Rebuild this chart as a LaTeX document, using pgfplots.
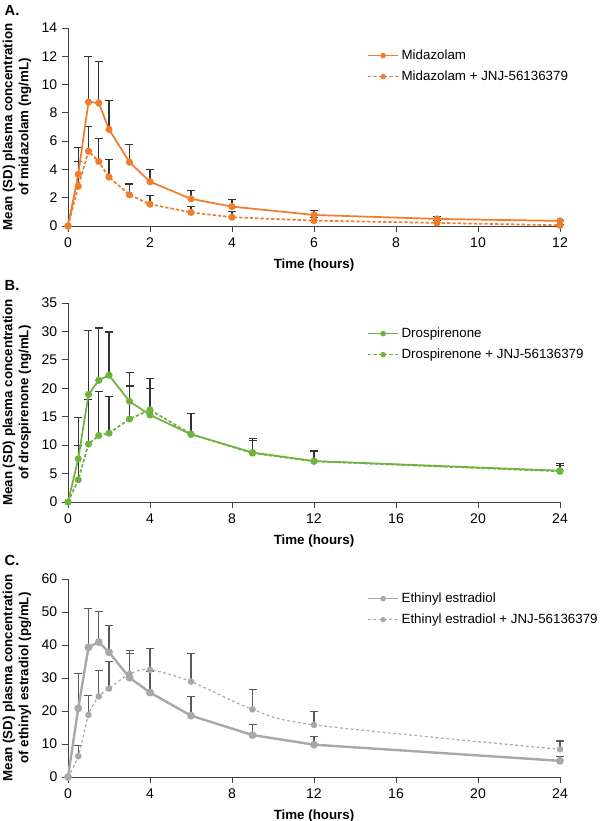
\documentclass[border=0pt]{standalone}
\usepackage{pgfplots}
\usepackage{pgfplotstable}
\pgfplotsset{compat=1.18}
\usepackage{fontspec}
\setmainfont{Liberation Sans}

\definecolor{midorange}{RGB}{240,125,45}
\definecolor{drogreen}{RGB}{112,178,62}
\definecolor{eegray}{RGB}{168,168,168}

% t, mean, SD (upper bar only)
\pgfplotstableread{
t y e
0 0 0
0.25 3.65 1.92
0.5 8.77 3.21
0.75 8.70 2.95
1 6.83 2.06
1.5 4.51 1.22
2 3.13 0.89
3 1.92 0.58
4 1.37 0.48
6 0.78 0.32
9 0.50 0.16
12 0.36 0.06
}\midaz
\pgfplotstableread{
t y e
0 0 0
0.25 2.81 1.75
0.5 5.29 1.77
0.75 4.56 1.62
1 3.46 1.27
1.5 2.20 0.77
2 1.54 0.59
3 0.96 0.39
4 0.62 0.38
6 0.38 0.24
9 0.22 0.18
12 0.05 0.05
}\midazjnj
\pgfplotstableread{
t y e
0 0 0
0.5 7.6 7.3
1 18.9 11.2
1.5 21.4 9.2
2 22.3 7.6
3 17.7 5.1
4 15.3 6.5
6 11.9 3.7
9 8.7 2.4
12 7.2 1.9
24 5.5 1.25
}\drsp
\pgfplotstableread{
t y e
0 0 0
0.5 3.9 6.0
1 10.2 7.8
1.5 11.7 7.7
2 12.1 6.5
3 14.6 5.8
4 16.2 3.7
6 11.95 3.55
9 8.6 2.2
12 7.15 1.75
24 5.4 1.1
}\drspjnj
\pgfplotstableread{
t y e
0 0 0
0.5 20.8 10.6
1 39.3 11.7
1.5 40.9 9.3
2 37.8 8.1
3 30.1 7.2
4 25.6 6.4
6 18.6 5.8
9 12.7 3.3
12 9.8 2.4
24 4.9 1.4
}\ee
\pgfplotstableread{
t y e
0 0 0
0.5 6.3 3.3
1 18.8 5.9
1.5 24.4 7.9
2 26.8 8.2
3 31.2 7.2
4 32.5 6.5
6 28.9 8.6
9 20.5 6.0
12 15.8 4.1
24 8.4 2.5
}\eejnj

\pgfplotsset{
  pkpanel/.style={
    scale only axis, width=369pt, height=148.5pt,
    axis lines*=left, clip=false,
    axis line style={black!75, line width=0.7pt},
    tick style={black!75, line width=0.7pt},
    major tick length=4.5pt, tick align=outside,
    xmin=0, ymin=0,
    tick label style={font=\fontsize{10.5}{12}\selectfont},
    xticklabel style={yshift=-0.5pt},
    /pgf/number format/assume math mode=true,
    label style={font=\bfseries\fontsize{10}{12}\selectfont},
    xlabel={Time (hours)},
    xlabel style={at={(axis description cs:0.5,0)}, anchor=center, yshift=-29pt},
    ylabel style={at={(axis description cs:-0.1037,0.5)}, anchor=center, align=center},
    legend style={draw=none, fill=none, anchor=north west,
      font=\fontsize{10}{12}\selectfont, row sep=3pt, inner sep=0pt},
    legend cell align=left,
    legend image code/.code={\draw[line width=0.9pt, mark size=1.6pt, mark repeat=2, mark phase=2]
      plot coordinates {(0cm,0cm) (0.4cm,0cm) (0.8cm,0cm)};},
  },
  errs/.style={forget plot, draw=none, mark=none,
    skip coords between index={0}{1},
    error bars/y dir=plus, error bars/y explicit,
    error bars/error bar style={draw=#1, line width=0.8pt, solid},
    error bars/error mark options={draw=#1, rotate=90, line width=0.8pt, mark size=3pt, solid}},
}

\begin{document}
\begin{tikzpicture}
\useasboundingbox (0,0) rectangle (450pt,615.75pt);

% Panel A
\begin{axis}[pkpanel, at={(51pt,446.25pt)}, anchor=south west,
    xmax=12, ymax=14, xtick={0,2,...,12}, ytick={0,2,...,14},
    ylabel={Mean (SD) plasma concentration\\of midazolam (ng/mL)},
    legend style={at={(axis description cs:0.608,0.905)}}]
  \addplot[errs=black!80] table[x=t, y=y, y error=e] {\midaz};
  \addplot[errs=black!80] table[x=t, y=y, y error=e] {\midazjnj};
  \addplot[midorange, line width=1.3pt, mark=*, mark size=2pt, mark options={solid}]
    table[x=t, y=y] {\midaz};
  \addplot[midorange, line width=1.3pt, dash pattern=on 2.5pt off 1.5pt, mark=*, mark size=2pt, mark options={solid}]
    table[x=t, y=y] {\midazjnj};
  \legend{Midazolam, Midazolam + JNJ-56136379}
\end{axis}
\node[anchor=west, font=\bfseries\fontsize{11}{13}\selectfont] at (0pt,608.25pt) {A.};

% Panel B
\begin{axis}[pkpanel, at={(51pt,239.25pt)}, anchor=south west, height=149.25pt,
    xmax=24, ymax=35, xtick={0,4,...,24}, ytick={0,5,...,35},
    ylabel={Mean (SD) plasma concentration\\of drospirenone (ng/mL)},
    legend style={at={(axis description cs:0.608,0.89)}}]
  \addplot[errs=black!80] table[x=t, y=y, y error=e] {\drsp};
  \addplot[errs=black!80] table[x=t, y=y, y error=e] {\drspjnj};
  \addplot[drogreen, line width=1.3pt, mark=*, mark size=2pt, mark options={solid}]
    table[x=t, y=y] {\drsp};
  \addplot[drogreen, line width=1.3pt, dash pattern=on 2.5pt off 1.5pt, mark=*, mark size=2pt, mark options={solid}]
    table[x=t, y=y] {\drspjnj};
  \legend{Drospirenone, Drospirenone + JNJ-56136379}
\end{axis}
\node[anchor=west, font=\bfseries\fontsize{11}{13}\selectfont] at (0pt,402pt) {B.};

% Panel C
\begin{axis}[pkpanel, at={(51pt,33pt)}, anchor=south west,
    xmax=24, ymax=60, xtick={0,4,...,24}, ytick={0,10,...,60},
    ylabel={Mean (SD) plasma concentration\\of ethinyl estradiol (pg/mL)},
    legend style={at={(axis description cs:0.608,0.945)}}]
  \addplot[errs=black!65] table[x=t, y=y, y error=e] {\ee};
  \addplot[errs=black!65] table[x=t, y=y, y error=e] {\eejnj};
  \addplot[eegray, line width=1.8pt, mark=*, mark size=2pt, mark options={solid}]
    table[x=t, y=y] {\ee};
  \addplot[eegray, line width=0.9pt, smooth, dash pattern=on 2pt off 2pt, mark=*, mark size=2pt, mark options={solid}]
    table[x=t, y=y] {\eejnj};
  \legend{Ethinyl estradiol, Ethinyl estradiol + JNJ-56136379}
\end{axis}
\node[anchor=west, font=\bfseries\fontsize{11}{13}\selectfont] at (0pt,195.75pt) {C.};
\end{tikzpicture}
\end{document}
